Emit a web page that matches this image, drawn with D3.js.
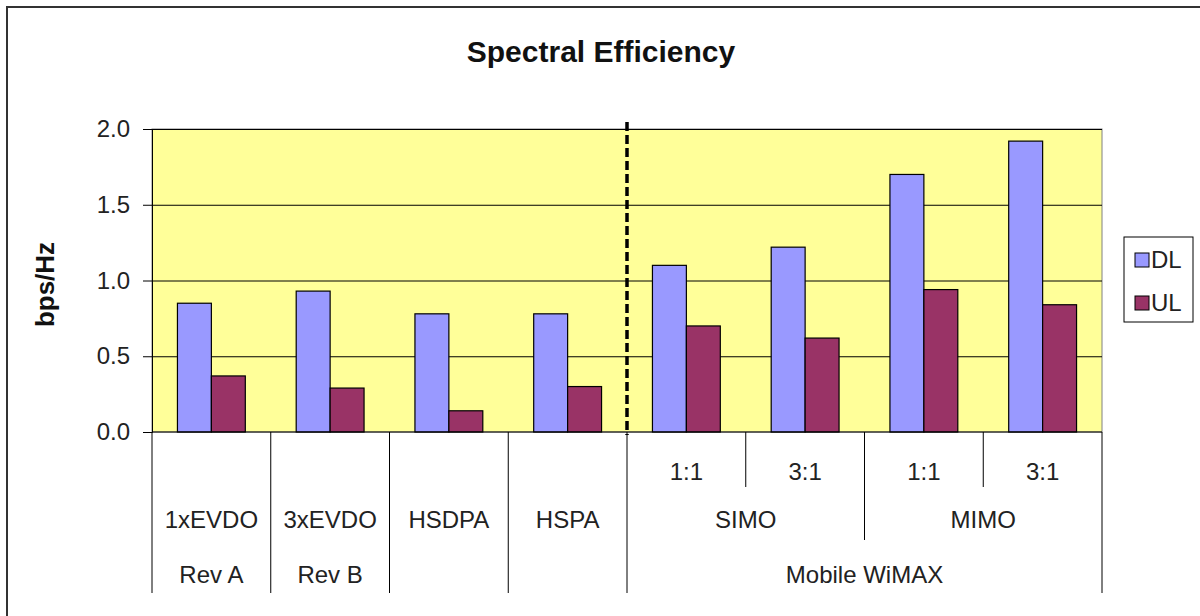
<!DOCTYPE html>
<html>
<head>
<meta charset="utf-8">
<script src="https://cdn.jsdelivr.net/npm/d3@7"></script>
<style>
  body { margin: 0; background: #fff; }
  svg { display: block; font-family: "Liberation Sans", Arial, sans-serif; }
</style>
</head>
<body>
<script>
// data
var categories = ['1xEVDO Rev A', '3xEVDO Rev B', 'HSDPA', 'HSPA', 'SIMO 1:1', 'SIMO 3:1', 'MIMO 1:1', 'MIMO 3:1'];
var dlValues = [0.85, 0.93, 0.78, 0.78, 1.10, 1.22, 1.70, 1.92];
var ulValues = [0.37, 0.29, 0.14, 0.30, 0.70, 0.62, 0.94, 0.84];
var series = ['DL', 'UL'];
var yTicks = [0, 0.5, 1.0, 1.5, 2.0];

// three rows of category labels (inner row first)
var subLabels = ['', '', '', '', '1:1', '3:1', '1:1', '3:1'];
var midLabels = ['1xEVDO', '3xEVDO', 'HSDPA', 'HSPA', 'SIMO', 'SIMO', 'MIMO', 'MIMO'];
var topLabels = ['Rev A', 'Rev B', '', '', 'Mobile WiMAX', 'Mobile WiMAX', 'Mobile WiMAX', 'Mobile WiMAX'];

var svgWidth = 1200, svgHeight = 616;
var margin = {top: 129, right: 98, bottom: 184, left: 152};
var w = svgWidth - margin.left - margin.right;
var h = svgHeight - margin.top - margin.bottom;

var colors = {DL: '#9999ff', UL: '#993366'};

var svg = d3.select('body').append('svg')
    .attr('width', svgWidth)
    .attr('height', svgHeight);

// outer chart frame (right/bottom edges fall outside the picture)
svg.append('rect')
    .attr('x', 7).attr('y', 7)
    .attr('width', 1250).attr('height', 700)
    .attr('fill', 'none')
    .attr('stroke', '#333')
    .attr('stroke-width', 2);

var g = svg.append('g').attr('transform', 'translate(' + margin.left + ',' + margin.top + ')');

var xScale = d3.scaleBand().domain(categories).range([0, w]).padding(0);
var xSub = d3.scaleBand().domain(series).range([0, xScale.bandwidth()]).paddingInner(0).paddingOuter(0.75);
var yScale = d3.scaleLinear().domain([0, 2]).range([h, 0]);

// plot area
g.append('rect')
    .attr('width', w).attr('height', h)
    .attr('fill', '#ffff99')
    .attr('stroke', '#808080');

// gridlines
g.append('g')
    .call(d3.axisLeft(yScale).tickValues(yTicks.slice(1)).tickSize(-w).tickFormat(''))
    .call(function(s){ s.select('.domain').remove(); })
    .selectAll('line').attr('stroke', '#000');

// bars
var rows = categories.map(function(c, i){ return {cat: c, DL: dlValues[i], UL: ulValues[i]}; });
var grp = g.selectAll('.cat').data(rows).enter().append('g')
    .attr('transform', function(d){ return 'translate(' + xScale(d.cat) + ',0)'; });
grp.selectAll('rect').data(function(d){ return series.map(function(s){ return {key: s, value: d[s]}; }); })
    .enter().append('rect')
    .attr('x', function(d){ return xSub(d.key); })
    .attr('y', function(d){ return yScale(d.value); })
    .attr('width', xSub.bandwidth())
    .attr('height', function(d){ return h - yScale(d.value); })
    .attr('fill', function(d){ return colors[d.key]; })
    .attr('stroke', '#000')
    .attr('stroke-width', 1.2);

// y axis
var yAxis = g.append('g')
    .call(d3.axisLeft(yScale).tickValues(yTicks).tickSize(9).tickPadding(13).tickFormat(d3.format('.1f')));
yAxis.select('.domain').attr('stroke', '#000');
yAxis.selectAll('text').attr('font-size', 24).attr('fill', '#222').attr('font-family', '"Liberation Sans", Arial, sans-serif');
yAxis.selectAll('line').attr('stroke', '#000');

// base line
g.append('line')
    .attr('x1', 0).attr('x2', w)
    .attr('y1', yScale(0)).attr('y2', yScale(0))
    .attr('stroke', '#000');

// dashed divider between the 3G techs and WiMAX
var divX = xScale(categories[4]);
g.append('line')
    .attr('x1', divX).attr('x2', divX)
    .attr('y1', yScale(2) - 7).attr('y2', yScale(0) + 3)
    .attr('stroke', '#000')
    .attr('stroke-width', 3.5)
    .attr('stroke-dasharray', '9,4');

// category table under the axis
var rowY = [h + 40, h + 88, h + 143];   // label centres
var rowBottom = [h + 55, h + 108, h + 161];

function runs(labels, parentBreaks) {
    var out = [], start = 0;
    for (var i = 1; i <= labels.length; i++) {
        var brk = i === labels.length || labels[i] !== labels[i - 1] || labels[i] === '' || (parentBreaks && parentBreaks[i]);
        if (brk) { out.push({label: labels[start], from: start, to: i - 1}); start = i; }
    }
    return out;
}
function breaks(labels, parentBreaks) {
    return labels.map(function(l, i){
        return i > 0 && (l !== labels[i - 1] || l === '' || (parentBreaks && parentBreaks[i]));
    });
}
var topBreaks = breaks(topLabels);
var midBreaks = breaks(midLabels, topBreaks);
var levels = [runs(subLabels), runs(midLabels, topBreaks), runs(topLabels)];

var table = g.append('g');
var step = xScale.step();
// separators
d3.range(categories.length + 1).forEach(function(i){
    var x = i < categories.length ? xScale(categories[i]) : w;
    var bottom;
    if (i === 0 || i === categories.length || topBreaks[i]) bottom = rowBottom[2];
    else if (midBreaks[i]) bottom = rowBottom[1];
    else bottom = rowBottom[0];
    table.append('line')
        .attr('x1', x).attr('x2', x)
        .attr('y1', h).attr('y2', bottom)
        .attr('stroke', '#000');
});
levels.forEach(function(lv, r){
    table.selectAll('.lv' + r).data(lv.filter(function(d){ return d.label !== ''; }))
        .enter().append('text')
        .attr('x', function(d){ return xScale(categories[d.from]) + (d.to - d.from + 1) * step / 2; })
        .attr('y', rowY[r])
        .attr('dy', '0.35em')
        .attr('text-anchor', 'middle')
        .attr('font-size', 24)
        .attr('fill', '#222')
        .text(function(d){ return d.label; });
});

// title
svg.append('text')
    .attr('x', 601).attr('y', 62)
    .attr('text-anchor', 'middle')
    .attr('font-size', 30)
    .attr('font-weight', 'bold')
    .attr('fill', '#111')
    .text('Spectral Efficiency');

// y axis title
svg.append('text')
    .attr('transform', 'translate(54,' + (margin.top + h / 2 + 4) + ') rotate(-90)')
    .attr('text-anchor', 'middle')
    .attr('font-size', 26)
    .attr('font-weight', 'bold')
    .attr('fill', '#111')
    .text('bps/Hz');

// legend
var legend = svg.append('g').attr('transform', 'translate(1124,237)');
legend.append('rect')
    .attr('width', 69).attr('height', 85)
    .attr('fill', '#fff').attr('stroke', '#000');
series.forEach(function(s, i){
    var ly = 23 + i * 43;
    legend.append('rect')
        .attr('x', 11).attr('y', ly - 7)
        .attr('width', 14).attr('height', 14)
        .attr('fill', colors[s]).attr('stroke', '#000');
    legend.append('text')
        .attr('x', 27).attr('y', ly)
        .attr('dy', '0.35em')
        .attr('font-size', 24)
        .attr('fill', '#222')
        .text(s);
});
</script>
</body>
</html>
